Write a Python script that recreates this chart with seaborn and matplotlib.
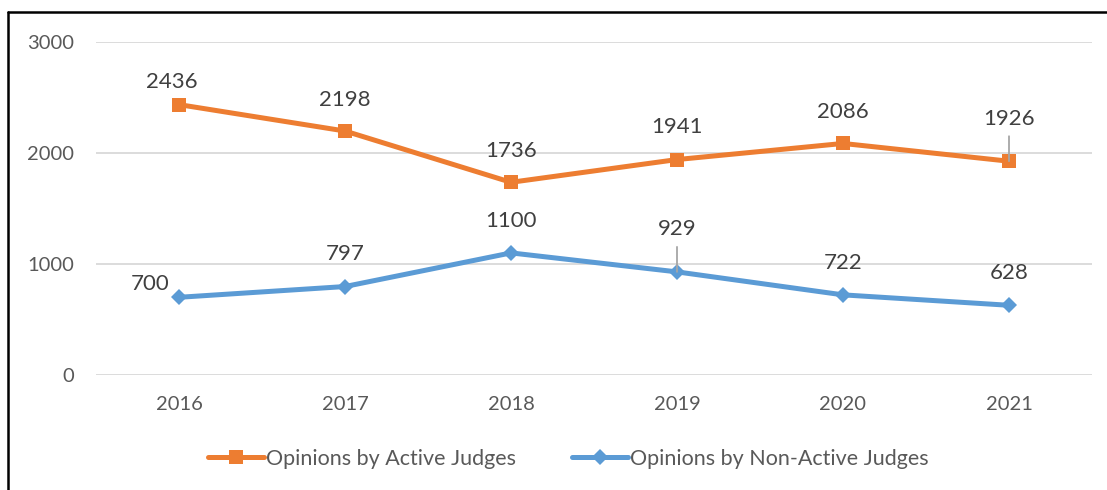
import seaborn as sns
import pandas as pd
import matplotlib.pyplot as plt
from matplotlib.lines import Line2D

# 数据
years = ["2016", "2017", "2018", "2019", "2020", "2021"]
active = [2436, 2198, 1736, 1941, 2086, 1926]
non_active = [700, 797, 1100, 929, 722, 628]
series_names = ["Opinions by Active Judges", "Opinions by Non-Active Judges"]

# 标签偏移 (points, 文本中心相对数据点)
active_offsets = [(-5, 16), (0, 22.6), (0, 22.8), (0, 23.5), (0, 22.8), (0, 30.7)]
non_active_offsets = [(-21, 9.6), (0, 23.3), (0, 23), (0, 31.2), (0, 22.8), (0, 23.3)]
leader = [False, False, False, False, False, True]
leader_na = [False, False, False, True, False, False]

orange = "#ED7D31"
blue = "#5B9BD5"

sns.set_theme(style="white")
plt.rcParams['font.family'] = ['Lato', 'DejaVu Sans']

df = pd.DataFrame({
    "year": years * 2,
    "value": active + non_active,
    "series": [series_names[0]] * len(years) + [series_names[1]] * len(years),
})

fig = plt.figure(figsize=(11.07, 4.9), dpi=100)
ax = fig.add_axes([96 / 1107, 1 - 375 / 490, (1092 - 96) / 1107, (375 - 42) / 490])

sns.lineplot(data=df, x="year", y="value", hue="series", style="series",
             markers={series_names[0]: "s", series_names[1]: "D"},
             dashes=False, palette=[orange, blue], linewidth=3.6,
             markersize=10, markeredgewidth=0, sort=False, ax=ax, legend=False)
# 菱形稍小
ax.lines[1].set_markersize(8)

ax.set_xlim(-0.5, 5.5)
ax.set_ylim(0, 3000)
ax.set_yticks([0, 1000, 2000, 3000])
ax.yaxis.grid(True, color="#D9D9D9", linewidth=1.3)
ax.set_axisbelow(True)
for s in ax.spines.values():
    s.set_visible(False)
ax.set_xlabel("")
ax.set_ylabel("")
ax.tick_params(axis="both", length=0, labelsize=14.5, colors="#595959")
ax.tick_params(axis="x", pad=15)
ax.tick_params(axis="y", pad=16)

# 数据标签
def add_labels(values, offsets, leaders):
    for i, (v, off, ld) in enumerate(zip(values, offsets, leaders)):
        ax.annotate(str(v), (i, v), xytext=off, textcoords="offset points",
                    ha="center", va="center", fontsize=16, color="#404040")
        if ld:
            ax.annotate("", (i, v), xytext=(0, 18), textcoords="offset points",
                        arrowprops=dict(arrowstyle="-", color="#A6A6A6", lw=1.3,
                                        shrinkA=0, shrinkB=0))

add_labels(active, active_offsets, leader)
add_labels(non_active, non_active_offsets, leader_na)

# 图例
handles = [
    Line2D([], [], color=orange, lw=3.6, marker="s", markersize=10, markeredgewidth=0),
    Line2D([], [], color=blue, lw=3.6, marker="D", markersize=8, markeredgewidth=0),
]
fig.legend(handles, series_names, loc="center", bbox_to_anchor=(568 / 1107, 1 - 459 / 490),
           ncol=2, frameon=False, fontsize=15.5, handlelength=2.6, handletextpad=0.1,
           columnspacing=2.6, labelcolor="#595959")

# 外框 (左、上)
fig.add_artist(Line2D([8 / 1107, 8 / 1107], [0, 1 - 12.5 / 490], color="black", lw=1.8,
                      transform=fig.transFigure))
fig.add_artist(Line2D([8 / 1107, 1], [1 - 12.5 / 490, 1 - 12.5 / 490], color="black", lw=1.8,
                      transform=fig.transFigure))

fig.savefig("out.png", dpi=100)
